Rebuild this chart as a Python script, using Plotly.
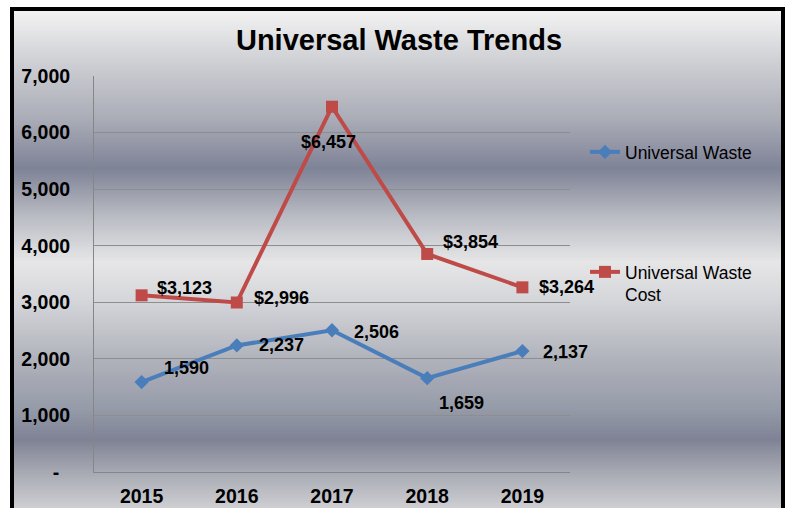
import plotly.graph_objects as go

# ---- data ----
years = ["2015", "2016", "2017", "2018", "2019"]
universal_waste = [1590, 2237, 2506, 1659, 2137]
universal_waste_cost = [3123, 2996, 6457, 3854, 3264]
y_tick_values = [0, 1000, 2000, 3000, 4000, 5000, 6000, 7000]
y_tick_labels = ["-\u00a0\u00a0", "1,000", "2,000", "3,000", "4,000", "5,000", "6,000", "7,000"]

# ---- layout geometry (pixels) ----
W, H = 792, 508
PL, PR, PT, PB = 94, 570, 76, 472
PW, PH = PR - PL, PB - PT


def px(x):
    return (x - PL) / PW


def py(y):
    return (PB - y) / PH


FONT = "Arial, Liberation Sans, sans-serif"
BLUE = "#4a7ebb"
RED = "#be4b48"

# label offsets (pixels) relative to each point
uw_dx = [20, 20, 20, 10, 19]
uw_dy = [14, 0, -2, -25, -1]
cost_dx = [13, 15, -33, 14, 15]
cost_dy = [7, 5, -35, 12, 0]

fig = go.Figure()
fig.add_trace(go.Scatter(
    x=years, y=universal_waste, name="Universal Waste", mode="lines+markers",
    line=dict(color=BLUE, width=4), marker=dict(symbol="diamond", size=11, color=BLUE),
    legend="legend",
))
fig.add_trace(go.Scatter(
    x=years, y=universal_waste_cost, name="Universal Waste<br>Cost", mode="lines+markers",
    line=dict(color=RED, width=4), marker=dict(symbol="square", size=12, color=RED),
    legend="legend2",
))

annotations = []
for i, yr in enumerate(years):
    annotations.append(dict(x=i, y=universal_waste[i], text=f"{universal_waste[i]:,}",
                            xref="x", yref="y", showarrow=False, xanchor="left", yanchor="middle",
                            xshift=uw_dx[i], yshift=uw_dy[i],
                            font=dict(family=FONT, size=18, color="black", weight="bold")))
    annotations.append(dict(x=i, y=universal_waste_cost[i], text=f"${universal_waste_cost[i]:,}",
                            xref="x", yref="y", showarrow=False, xanchor="left", yanchor="middle",
                            xshift=cost_dx[i], yshift=cost_dy[i],
                            font=dict(family=FONT, size=18, color="black", weight="bold")))

# background gradient (metal look)
stops = [
    (9, (244, 244, 244)), (60, (208, 209, 213)), (120, (169, 171, 182)), (168, (127, 131, 151)),
    (178, (138, 141, 158)), (215, (184, 186, 194)), (262, (230, 230, 231)), (300, (213, 214, 218)),
    (360, (176, 178, 187)), (410, (149, 154, 168)), (440, (126, 130, 149)), (448, (138, 141, 156)),
    (480, (176, 178, 186)), (510, (208, 208, 212)),
]


def color_at(y):
    for (y0, c0), (y1, c1) in zip(stops[:-1], stops[1:]):
        if y0 <= y <= y1:
            t = (y - y0) / (y1 - y0)
            return "rgb(%d,%d,%d)" % tuple(round(a + (b - a) * t) for a, b in zip(c0, c1))
    return "rgb(%d,%d,%d)" % stops[-1][1]


shapes = []
step = 2
y = 9
while y < 510:
    shapes.append(dict(type="rect", xref="paper", yref="paper", layer="below",
                       x0=px(12), x1=px(783), y0=py(y + step + 0.5), y1=py(y),
                       fillcolor=color_at(y + step / 2), line=dict(width=0)))
    y += step
shapes.append(dict(type="rect", xref="paper", yref="paper", layer="above",
                   x0=px(12), x1=px(783), y0=py(530), y1=py(9),
                   fillcolor="rgba(0,0,0,0)", line=dict(color="black", width=4)))

fig.update_layout(
    width=W, height=H,
    margin=dict(l=PL, r=W - PR, t=PT, b=H - PB, pad=0),
    paper_bgcolor="white", plot_bgcolor="rgba(0,0,0,0)",
    font=dict(family=FONT, color="black"),
    title=dict(text="Universal Waste Trends", x=399 / W, xref="container", xanchor="center",
               y=1 - 40 / H, yref="container", yanchor="middle",
               font=dict(family=FONT, size=29, color="black", weight="bold")),
    xaxis=dict(type="category", range=[-0.5, len(years) - 0.5], showgrid=False,
               showline=True, linecolor="#868686", linewidth=1,
               ticks="", ticklabelstandoff=7, automargin=False,
               tickfont=dict(family=FONT, size=19.5, color="black", weight="bold")),
    yaxis=dict(range=[0, 7000], tickvals=y_tick_values, ticktext=y_tick_labels,
               showgrid=True, gridcolor="#8e8e8e", gridwidth=1, zeroline=False,
               showline=True, linecolor="#868686", linewidth=1,
               ticks="", ticklabelstandoff=19, automargin=False,
               tickfont=dict(family=FONT, size=19.5, color="black", weight="bold")),
    legend=dict(x=px(585), xanchor="left", y=py(152), yanchor="middle",
                bgcolor="rgba(0,0,0,0)", font=dict(family=FONT, size=17.5, color="black")),
    legend2=dict(x=px(585), xanchor="left", y=py(254), yanchor="top", valign="top",
                 bgcolor="rgba(0,0,0,0)", font=dict(family=FONT, size=17.5, color="black")),
    annotations=annotations,
    shapes=shapes,
    showlegend=True,
)

fig.write_html("out.html", config={"displayModeBar": False},
               post_script="document.body.style.margin='0';document.body.style.overflow='hidden';")
